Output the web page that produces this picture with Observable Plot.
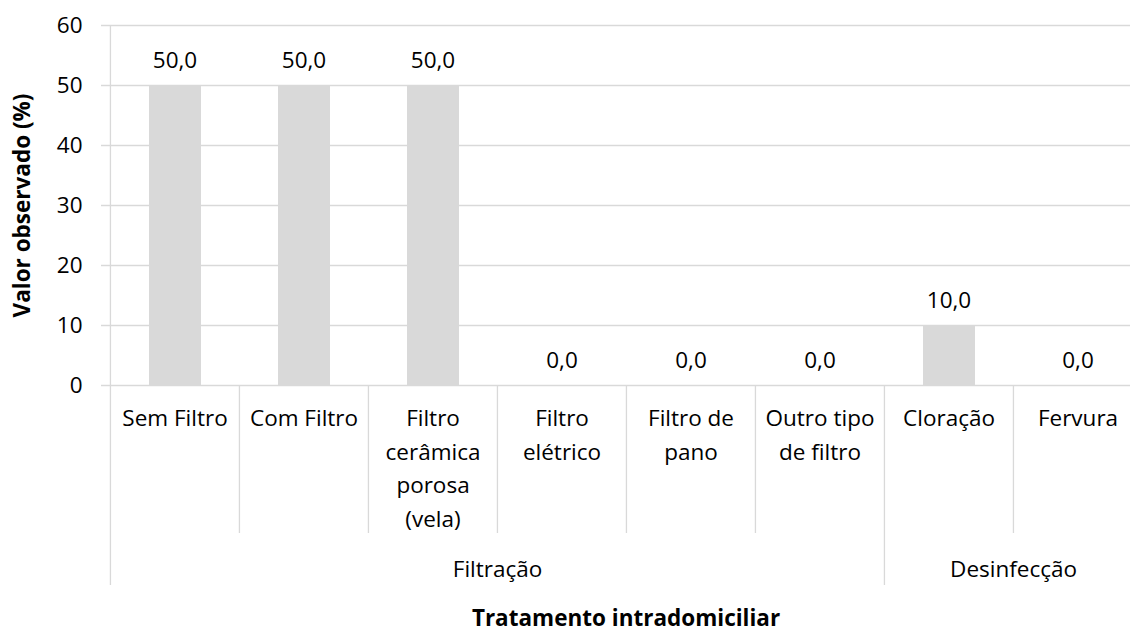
<!DOCTYPE html>
<html><head><meta charset="utf-8">
<script src="https://cdn.jsdelivr.net/npm/d3@7"></script>
<script src="https://cdn.jsdelivr.net/npm/@observablehq/plot@0.6"></script>
<style>html,body{margin:0;padding:0;background:#fff} svg{display:block}</style>
</head><body><div id="chart"></div>
<script>
const categories = ["Sem Filtro","Com Filtro","Filtro cerâmica porosa (vela)","Filtro elétrico","Filtro de pano","Outro tipo de filtro","Cloração","Fervura"];
const categoryLabels = ["Sem Filtro","Com Filtro","Filtro\ncerâmica\nporosa\n(vela)","Filtro\nelétrico","Filtro de\npano","Outro tipo\nde filtro","Cloração","Fervura"];
const groups = ["Filtração","Filtração","Filtração","Filtração","Filtração","Filtração","Desinfecção","Desinfecção"];
const values = [50,50,50,0,0,0,10,0];
const yTicks = [0,10,20,30,40,50,60];
const yTitle = "Valor observado (%)";
const xTitle = "Tratamento intradomiciliar";

const W = 1130, H = 628, mL = 109, mR = -12, mT = 25, mB = 243;
const innerH = H - mT - mB;
const step = (W - mL - mR) / categories.length;
const FONT = "Open Sans";
const FS = 22.5;
const grid = "#d9d9d9";

const data = categories.map((c, i) => ({cat: c, label: categoryLabels[i], group: groups[i], value: values[i],
  groupStart: i === 0 || groups[i] !== groups[i - 1]}));

// group spans
const groupData = [];
groups.forEach((g, i) => {
  const last = groupData[groupData.length - 1];
  if (last && last.name === g) last.end = i; else groupData.push({name: g, start: i, end: i});
});
groupData.forEach(g => {
  const n = g.end - g.start + 1;
  const mid = g.start + Math.floor((n - 1) / 2);
  g.anchor = categories[mid];
  g.dx = n % 2 === 0 ? step / 2 : 0;
});

const fmt = v => v.toFixed(1).replace(".", ",");

const plot = Plot.plot({
  width: W, height: H,
  marginLeft: mL, marginRight: mR, marginTop: mT, marginBottom: mB,
  style: {fontFamily: FONT, fontSize: FS + "px", color: "#000", background: "#fff", overflow: "hidden"},
  x: {type: "band", domain: categories, padding: 0, axis: null},
  y: {domain: [0, 60], axis: null},
  marks: [
    Plot.ruleY(yTicks, {y: d => d, stroke: grid, strokeWidth: 1.3, insetLeft: -8}),
    Plot.barY(data, {x: "cat", y: "value", fill: "#d9d9d9", insetLeft: 39, insetRight: 38}),
    Plot.text(data, {x: "cat", y: "value", text: d => fmt(d.value), lineAnchor: "bottom", dy: -18, fontSize: FS, fill: "#000"}),
    Plot.axisY({ticks: yTicks, tickSize: 0, tickPadding: 27, fontSize: FS, fill: "#000", tickFormat: d => d, label: null}),
    // vertical axis line (continues down as the outer category border)
    Plot.ruleX(data.slice(0, 1), {x: "cat", dx: -step / 2, stroke: grid, strokeWidth: 1.3, insetTop: 0, insetBottom: -200}),
    // group-boundary separators below the axis
    Plot.ruleX(data.filter((d, i) => i > 0 && d.groupStart), {x: "cat", dx: -step / 2, stroke: grid, strokeWidth: 1.3, insetTop: innerH, insetBottom: -200}),
    // inner category separators
    Plot.ruleX(data.filter(d => !d.groupStart), {x: "cat", dx: -step / 2, stroke: grid, strokeWidth: 1.3, insetTop: innerH, insetBottom: -148}),
    Plot.text(data, {x: "cat", text: "label", frameAnchor: "bottom", lineAnchor: "top", dy: 17, lineHeight: 1.49, fontSize: FS, fill: "#000"}),
    ...groupData.map(g => Plot.text([g], {x: "anchor", dx: g.dx, text: "name", frameAnchor: "bottom", lineAnchor: "bottom", dy: 191, fontSize: FS, fill: "#000"})),
    Plot.text([yTitle], {frameAnchor: "left", textAnchor: "middle", rotate: -90, dx: -87, fontSize: FS, fontWeight: "bold", fill: "#000"}),
    Plot.text([xTitle], {frameAnchor: "bottom", textAnchor: "middle", lineAnchor: "bottom", dy: 240, fontSize: FS, fontWeight: "bold", fill: "#000"})
  ]
});
document.getElementById("chart").appendChild(plot);
</script>
</body></html>
